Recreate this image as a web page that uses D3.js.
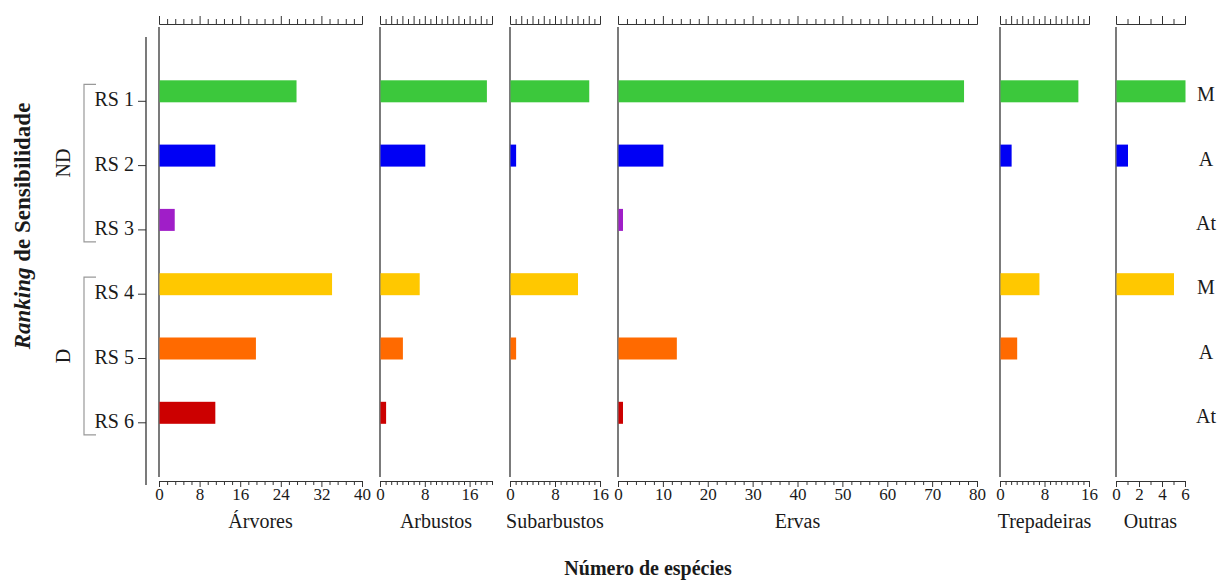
<!DOCTYPE html>
<html>
<head>
<meta charset="utf-8">
<script src="https://cdn.jsdelivr.net/npm/d3@7"></script>
<style>
  body { margin: 0; background: #fff; }
  svg text { font-family: "Liberation Serif", "Times New Roman", serif; }
</style>
</head>
<body>
<div id="chart"></div>
<script>
(function() {
    // ---- data ----
    const categories = ["RS 1", "RS 2", "RS 3", "RS 4", "RS 5", "RS 6"];
    const groups = ["ND", "D"];
    const levels = ["M", "A", "At", "M", "A", "At"];
    const panels = ["Árvores", "Arbustos", "Subarbustos", "Ervas", "Trepadeiras", "Outras"];
    const domainMax = [40, 20, 16, 80, 16, 6];
    const labelStep = [8, 8, 8, 10, 8, 2];
    const minorStep = [1.6, 1, 1, 2, 1, 1];

    const arvores = [27, 11, 3, 34, 19, 11];
    const arbustos = [19, 8, 0, 7, 4, 1];
    const subarbustos = [14, 1, 0, 12, 1, 0];
    const ervas = [77, 10, 1, 0, 13, 1];
    const trepadeiras = [14, 2, 0, 7, 3, 0];
    const outras = [6, 1, 0, 5, 0, 0];
    const series = [arvores, arbustos, subarbustos, ervas, trepadeiras, outras];

    const colors = ["#3cc83c", "#0000f5", "#a01ec8", "#ffc800", "#ff6a00", "#cc0000"];

    // ---- layout ----
    let w = 1223,
        h = 585;
    const panelX = [[159, 362], [380, 492], [510, 600], [618, 977], [1000, 1089], [1116, 1185]];
    const yTop = 27, yBottom = 477;
    const axisTopY = 24, axisBottomY = 481;
    const barH = 22;
    const ink = "#333",
        txt = "#1a1a1a";

    let svg = d3.select("#chart").append("svg")
        .attr("width", w)
        .attr("height", h);

    let y = d3.scalePoint()
        .domain(categories)
        .range([91.3, 412.8]);

    panels.forEach(function(name, i) {
        let x = d3.scaleLinear()
            .domain([0, domainMax[i]])
            .range(panelX[i]);
        let ticks = d3.range(0, domainMax[i] + 1e-6, minorStep[i]);
        const isMultiple = (v, s) => Math.abs(v / s - Math.round(v / s)) < 1e-6;
        const isLabel = v => isMultiple(v, labelStep[i]);
        const isTopTall = v => isMultiple(v, (i === 0 || i === 3) ? labelStep[i] : 2);

        let g = svg.append("g");

        // panel baseline (vertical)
        g.append("line")
            .attr("x1", x(0)).attr("x2", x(0))
            .attr("y1", yTop).attr("y2", yBottom)
            .attr("stroke", ink).attr("stroke-width", 1.3);

        // bars
        g.selectAll("rect").data(series[i]).enter().append("rect")
            .attr("x", x(0) + 0.5)
            .attr("y", (d, j) => y(categories[j]) - barH / 2)
            .attr("width", d => Math.max(0, x(d) - x(0)))
            .attr("height", barH)
            .attr("fill", (d, j) => colors[j]);

        // bottom axis
        let bottom = g.append("g")
            .attr("transform", "translate(0," + axisBottomY + ")")
            .call(d3.axisBottom(x)
                .tickValues(ticks)
                .tickSizeOuter(0)
                .tickSize(4)
                .tickPadding(3)
                .tickFormat(v => isLabel(v) ? d3.format("d")(Math.round(v)) : ""));
        bottom.select(".domain").attr("stroke", ink);
        bottom.selectAll(".tick line")
            .attr("stroke", ink)
            .attr("y2", v => isLabel(v) ? 6 : 4);
        bottom.selectAll(".tick text")
            .attr("fill", txt)
            .style("font-size", "17px")
            .style("font-family", "'Liberation Serif', 'Times New Roman', serif");

        // top axis (ticks only)
        let top = g.append("g")
            .attr("transform", "translate(0," + axisTopY + ")")
            .call(d3.axisTop(x)
                .tickValues(ticks)
                .tickSizeOuter(0)
                .tickSize(5)
                .tickFormat(""));
        top.select(".domain").attr("stroke", ink);
        top.selectAll(".tick line")
            .attr("stroke", ink)
            .attr("y2", v => isTopTall(v) ? -8 : -5);

        // panel title
        g.append("text")
            .attr("x", (panelX[i][0] + panelX[i][1]) / 2)
            .attr("y", 528)
            .attr("text-anchor", "middle")
            .style("font-size", "20px")
            .attr("fill", txt)
            .text(name);
    });

    // left category axis
    svg.append("line")
        .attr("x1", 146).attr("x2", 146)
        .attr("y1", 37).attr("y2", 485)
        .attr("stroke", ink).attr("stroke-width", 1.3);

    svg.selectAll(".cat").data(categories).enter().append("g")
        .attr("class", "cat")
        .each(function(d) {
            let gg = d3.select(this);
            gg.append("line")
                .attr("x1", 138).attr("x2", 146)
                .attr("y1", y(d) + 10).attr("y2", y(d) + 10)
                .attr("stroke", ink);
            gg.append("text")
                .attr("x", 134)
                .attr("y", y(d) + 15)
                .attr("text-anchor", "end")
                .style("font-size", "20px")
                .attr("fill", txt)
                .text(d);
        });

    // level labels on the right
    svg.selectAll(".lvl").data(levels).enter().append("text")
        .attr("class", "lvl")
        .attr("x", 1206)
        .attr("y", (d, j) => y(categories[j]) + 10)
        .attr("text-anchor", "middle")
        .style("font-size", "20px")
        .attr("fill", txt)
        .text(d => d);

    // group brackets
    groups.forEach(function(gname, k) {
        let y0 = y(categories[k * 3]) - 7,
            y1 = y(categories[k * 3 + 2]) + 22;
        svg.append("path")
            .attr("d", "M96," + y0 + "H84V" + y1 + "H96")
            .attr("fill", "none")
            .attr("stroke", "#999")
            .attr("stroke-width", 1.2);
        svg.append("text")
            .attr("transform", "translate(70," + ((y0 + y1) / 2) + ") rotate(-90)")
            .attr("text-anchor", "middle")
            .style("font-size", "20px")
            .attr("fill", txt)
            .text(gname);
    });

    // axis titles
    let yt = svg.append("text")
        .attr("transform", "translate(30,226) rotate(-90)")
        .attr("text-anchor", "middle")
        .style("font-size", "23px")
        .style("font-weight", "bold")
        .attr("fill", txt);
    yt.append("tspan").style("font-style", "italic").text("Ranking");
    yt.append("tspan").text(" de Sensibilidade");

    svg.append("text")
        .attr("x", 648)
        .attr("y", 575)
        .attr("text-anchor", "middle")
        .style("font-size", "20px")
        .style("font-weight", "bold")
        .attr("fill", txt)
        .text("Número de espécies");
})();
</script>
</body>
</html>
